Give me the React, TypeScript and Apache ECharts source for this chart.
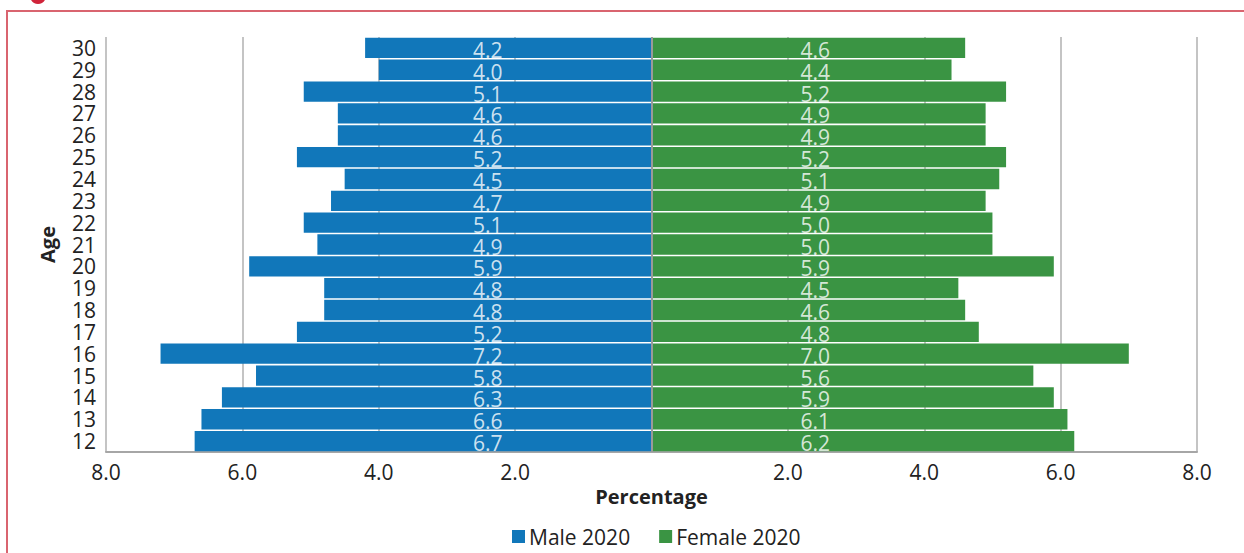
import React, { useEffect, useRef } from "react";
import * as echarts from "echarts";

// Ages listed top to bottom
const ages = ["30", "29", "28", "27", "26", "25", "24", "23", "22", "21", "20", "19", "18", "17", "16", "15", "14", "13", "12"];
const male2020 = [4.2, 4.0, 5.1, 4.6, 4.6, 5.2, 4.5, 4.7, 5.1, 4.9, 5.9, 4.8, 4.8, 5.2, 7.2, 5.8, 6.3, 6.6, 6.7];
const female2020 = [4.6, 4.4, 5.2, 4.9, 4.9, 5.2, 5.1, 4.9, 5.0, 5.0, 5.9, 4.5, 4.6, 4.8, 7.0, 5.6, 5.9, 6.1, 6.2];
const seriesNames = ["Male 2020", "Female 2020"];

// Value labels sit at a fixed distance from the centre line
const LABEL_POS = 2.4;

const FONT = "'Open Sans', 'Noto Sans', sans-serif";
const BLUE = "#1177ba";
const GREEN = "#3a9443";
const INK = "#222222";

export default function App() {
  const ref = useRef<HTMLDivElement>(null);

  useEffect(() => {
    document.body.style.margin = "0";
    const chart = echarts.init(ref.current!, null, { renderer: "svg" });

    const labelData = [
      ...male2020.map((v, i) => [-LABEL_POS, ages[i], v]),
      ...female2020.map((v, i) => [LABEL_POS, ages[i], v]),
    ];

    chart.setOption({
      animation: false,
      backgroundColor: "#ffffff",
      textStyle: { fontFamily: FONT },
      grid: { left: 106, right: 47, top: 37, bottom: 101, containLabel: false },
      legend: {
        data: seriesNames,
        top: 521,
        left: 507,
        icon: "rect",
        itemWidth: 13,
        itemHeight: 13,
        itemGap: 29,
        textStyle: { fontSize: 21, color: INK, fontFamily: FONT, padding: [0, 0, 0, -1] },
      },
      xAxis: {
        type: "value",
        min: -8,
        max: 8,
        interval: 2,
        name: "Percentage",
        nameLocation: "middle",
        nameGap: 34,
        nameTextStyle: { fontSize: 20, fontWeight: "bold", color: INK, fontFamily: FONT },
        axisLine: { show: true, lineStyle: { color: "#a6a6a6", width: 2 } },
        axisTick: { show: false },
        splitLine: { show: true, lineStyle: { color: "#b0b0b0", width: 1.5 } },
        axisLabel: {
          fontSize: 21,
          color: INK,
          margin: 9,
          fontFamily: FONT,
          formatter: (v: number) => (v === 0 ? "" : Math.abs(v).toFixed(1)),
        },
      },
      yAxis: {
        type: "category",
        data: ages,
        inverse: true,
        name: "Age",
        nameLocation: "middle",
        nameRotate: 90,
        nameGap: 49,
        nameTextStyle: { fontSize: 20, fontWeight: "bold", color: INK, fontFamily: FONT },
        axisLine: { show: false, onZero: false },
        axisTick: { show: false },
        splitLine: { show: false },
        axisLabel: {
          interval: 0,
          fontSize: 21,
          color: INK,
          margin: 10,
          lineHeight: 17,
          fontFamily: FONT,
        },
      },
      series: [
        {
          name: seriesNames[0],
          type: "bar",
          data: male2020.map((v) => -v),
          barGap: "-100%",
          barCategoryGap: "7%",
          itemStyle: { color: BLUE },
        },
        {
          name: seriesNames[1],
          type: "bar",
          data: female2020,
          barGap: "-100%",
          barCategoryGap: "7%",
          itemStyle: { color: GREEN },
        },
        {
          name: "labels",
          type: "scatter",
          data: labelData,
          symbolSize: 0,
          silent: true,
          z: 5,
          label: {
            show: true,
            position: "inside",
            offset: [0, 2],
            color: "#ffffff",
            fontSize: 21,
            lineHeight: 17,
            fontFamily: FONT,
            formatter: (p: any) => Number(p.value[2]).toFixed(1),
          },
          markLine: {
            silent: true,
            symbol: "none",
            label: { show: false },
            lineStyle: { color: "#9a9a9a", width: 2, type: "solid" },
            data: [{ xAxis: 0 }],
          },
        },
      ],
      graphic: [
        {
          type: "rect",
          shape: { x: 7, y: 11, width: 1300, height: 700 },
          style: { fill: "none", stroke: "#d9646f", lineWidth: 2 },
          silent: true,
        },
        {
          type: "circle",
          shape: { cx: 38, cy: -4, r: 8 },
          style: { fill: "#d0243a" },
          silent: true,
        },
      ],
    });

    return () => chart.dispose();
  }, []);

  return <div ref={ref} style={{ width: 1244, height: 553 }} />;
}
